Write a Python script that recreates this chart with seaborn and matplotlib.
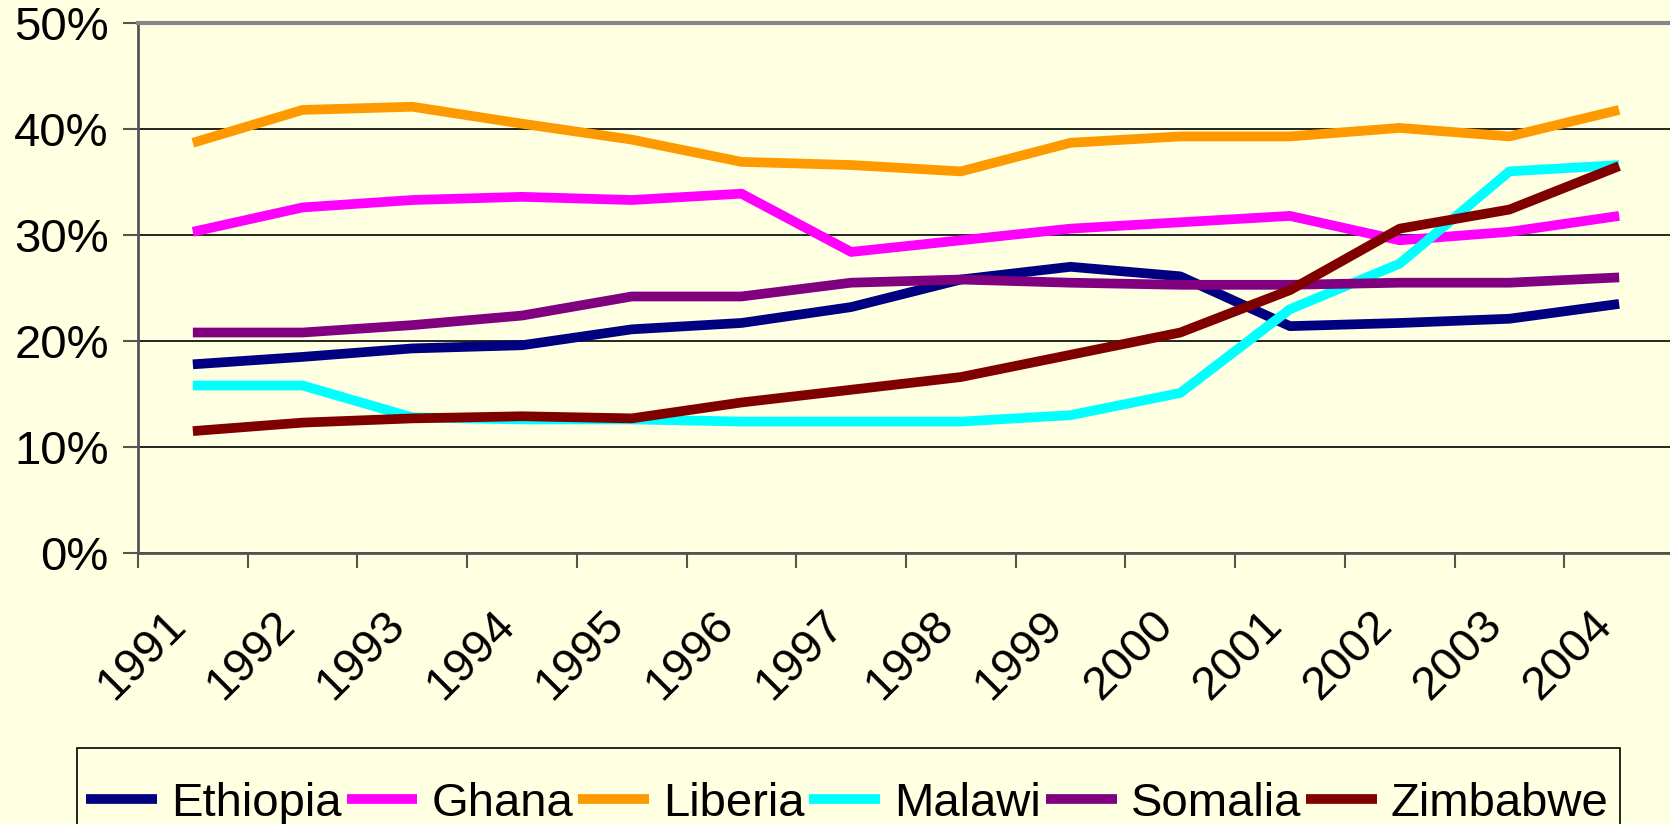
import matplotlib
matplotlib.use("Agg")
import matplotlib.pyplot as plt
from matplotlib.patches import Rectangle
from matplotlib.transforms import ScaledTranslation
import pandas as pd
import seaborn as sns

# ---------- data (percent of population) ----------
years = list(range(1991, 2005))
countries = ["Ethiopia", "Ghana", "Liberia", "Malawi", "Somalia", "Zimbabwe"]
colors = ["#000080", "#FF00FF", "#FF9900", "#00FFFF", "#800080", "#800000"]

ethiopia = [17.8, 18.5, 19.3, 19.6, 21.1, 21.7, 23.2, 25.8, 27.0, 26.1, 21.4, 21.7, 22.1, 23.5]
ghana    = [30.3, 32.6, 33.3, 33.6, 33.3, 33.9, 28.4, 29.5, 30.6, 31.2, 31.8, 29.5, 30.3, 31.8]
liberia  = [38.7, 41.8, 42.1, 40.5, 39.0, 36.9, 36.6, 36.0, 38.7, 39.3, 39.3, 40.1, 39.3, 41.8]
malawi   = [15.8, 15.8, 12.8, 12.6, 12.6, 12.4, 12.4, 12.4, 13.0, 15.1, 23.0, 27.3, 36.0, 36.6]
somalia  = [20.8, 20.8, 21.5, 22.4, 24.2, 24.2, 25.5, 25.8, 25.5, 25.3, 25.3, 25.5, 25.5, 26.0]
zimbabwe = [11.5, 12.3, 12.7, 12.9, 12.7, 14.2, 15.4, 16.6, 18.7, 20.8, 24.8, 30.6, 32.4, 36.5]

yticks = [0, 10, 20, 30, 40, 50]

series = dict(zip(countries, [ethiopia, ghana, liberia, malawi, somalia, zimbabwe]))
rows = []
for name, vals in series.items():
    for yr, v in zip(years, vals):
        rows.append((yr, name, v))
df = pd.DataFrame(rows, columns=["year", "country", "share"])

BG = "#FFFFE1"
W, H = 1670, 824
FS = 34

sns.set_style("white", {"axes.facecolor": BG, "figure.facecolor": BG,
                        "text.color": "black", "xtick.color": "black",
                        "ytick.color": "black"})
plt.rcParams["font.family"] = ["Liberation Sans", "DejaVu Sans"]

fig = plt.figure(figsize=(W / 100, H / 100), dpi=100)
ax = fig.add_axes([138 / W, 1 - 553 / H, 1536 / W, 530 / H])

sns.lineplot(data=df, x="year", y="share", hue="country", hue_order=countries,
             palette=dict(zip(countries, colors)), linewidth=7, errorbar=None,
             legend=False, ax=ax, solid_capstyle="butt")

# y axis
ax.set_ylim(0, 50)
ax.set_yticks(yticks)
ax.set_yticklabels([f"{t}%" for t in yticks])
ax.yaxis.grid(True, color="black", linewidth=1.2)
ax.set_axisbelow(True)
ax.tick_params(axis="y", direction="out", length=11, width=1.5, color="#555555",
               pad=10, labelsize=FS, labelcolor="black", left=True)

# x axis: ticks between categories, labels at centers
ax.set_xlim(years[0] - 0.5, years[-1] + 0.5)
ax.set_xticks([y - 0.5 for y in years] + [years[-1] + 0.5])
ax.set_xticklabels([])
ax.set_xticks(years, minor=True)
ax.set_xticklabels([str(y) for y in years], minor=True, rotation=45,
                   ha="right", va="center", rotation_mode="anchor")
ax.tick_params(axis="x", which="major", direction="out", length=11, width=1.5,
               color="#555555", bottom=True)
ax.tick_params(axis="x", which="minor", length=0, pad=47, labelsize=FS,
               labelcolor="black")
shift = ScaledTranslation(-14 / 100, 0, fig.dpi_scale_trans)
for lbl in ax.get_xticklabels(minor=True):
    lbl.set_transform(lbl.get_transform() + shift)
ax.set_xlabel("")
ax.set_ylabel("")

for side in ["left", "bottom"]:
    ax.spines[side].set_color("#555555")
    ax.spines[side].set_linewidth(2)
ax.spines["top"].set_color("#888888")
ax.spines["top"].set_linewidth(3)
ax.spines["right"].set_visible(False)

# legend row along the bottom, frame cut off by the figure edge
leg = fig.legend(ax.lines[:len(countries)], countries, loc="center left",
                 bbox_to_anchor=(77 / W, 20 / H), bbox_transform=fig.transFigure,
                 ncol=len(countries), frameon=False, borderaxespad=0, borderpad=0.2,
                 handlelength=1.5, handletextpad=0.3, columnspacing=0.1, fontsize=FS)
for ln in leg.get_lines():
    ln.set_linewidth(7)
    ln.set_solid_capstyle("butt")

fig.canvas.draw()
bb = leg.get_window_extent()
fig.add_artist(Rectangle((bb.x0 / W, -0.02), (bb.x1 - bb.x0 + 2) / W, 76 / H + 0.02,
                         transform=fig.transFigure, fill=False, edgecolor="black",
                         linewidth=1.2))

fig.savefig("out.png", dpi=100, facecolor=BG)
